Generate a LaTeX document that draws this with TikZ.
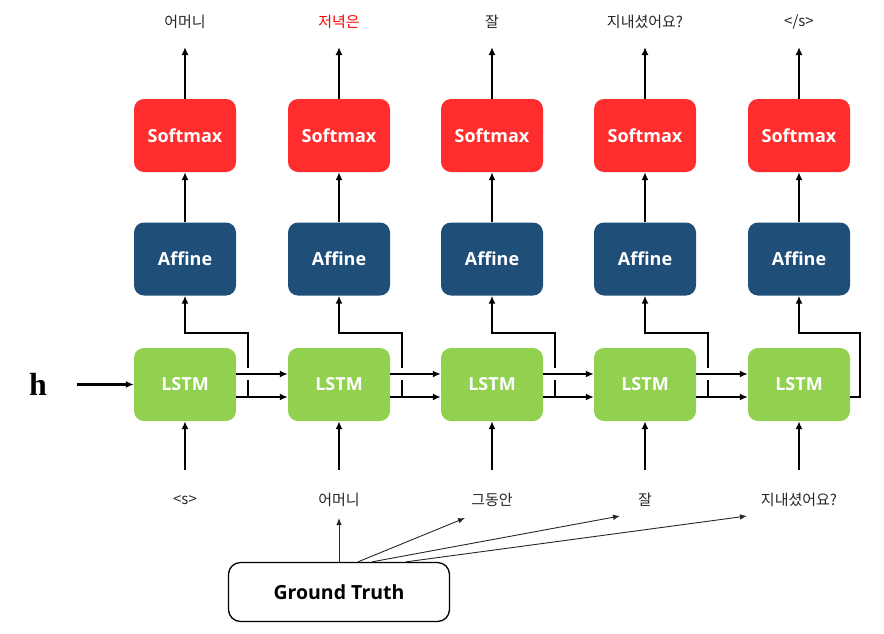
\documentclass[tikz,border=0pt]{standalone}
\usepackage{fontspec}
\setmainfont{Open Sans}
\newfontfamily\kr{Noto Sans CJK KR}
\newfontfamily\hserif{Liberation Serif}
\usetikzlibrary{arrows.meta,calc}
\definecolor{smred}{HTML}{FF2D2D}
\definecolor{afblue}{HTML}{1F4E79}
\definecolor{lsgreen}{HTML}{92D050}
\definecolor{lbltext}{HTML}{262626}
\tikzset{
  box/.style={rounded corners=10pt, minimum width=102pt, minimum height=73pt, inner sep=0pt,
    text=white, font=\fontsize{18}{20}\selectfont\bfseries},
  smbox/.style={box, fill=smred},
  afbox/.style={box, fill=afblue},
  lsbox/.style={box, fill=lsgreen},
  lbl/.style={font=\kr\fontsize{15}{17}\selectfont, text=lbltext, inner sep=0pt},
  arr/.style={line width=2.3pt, -{Latex[length=8pt,width=7pt]}},
  ln/.style={line width=2.3pt},
  gtarr/.style={line width=0.9pt, draw=black!85, -{Latex[length=7pt,width=5.5pt]}},
  gtbox/.style={draw=black, line width=1.3pt, rounded corners=12pt, minimum width=221pt,
    minimum height=59pt, font=\fontsize{19.5}{21}\selectfont\bfseries, inner sep=0pt}
}
\begin{document}
\begin{tikzpicture}[x=1pt,y=-1pt]
\useasboundingbox (0,0) rectangle (884,633);
% columns
\foreach \i/\x/\n in {1/185/{<s>},2/339/어머니,3/492/그동안,4/645/잘,5/799/지내셨어요?}{
  \node[smbox] (S\i) at (\x,135.5) {Softmax};
  \node[afbox] (A\i) at (\x,259) {Affine};
  \node[lsbox] (L\i) at (\x,384.5) {LSTM};
  \coordinate (T\i) at (\x,47);
  \coordinate (B\i) at (\x,470);
  \node[lbl] (in\i) at (\x,500) {\n};
  \draw[arr] (S\i.north) -- (T\i);
  \draw[arr] (A\i.north) -- (S\i.south);
  \draw[arr] (B\i) -- (L\i.south);
}
\node[lbl] (o1) at (185,22) {어머니};
\node[lbl, text=red] (o2) at (339,22) {저녁은};
\node[lbl] (o3) at (492,22) {잘};
\node[lbl] (o4) at (645,22) {지내셨어요?};
\node[lbl] (o5) at (799,22) {</s>};
% recurrent connections
\foreach \i/\j in {1/2,2/3,3/4,4/5}{
  \draw[arr] ([yshift=10.5pt]L\i.east) -- ([yshift=10.5pt]L\j.west);
  \draw[arr] ([yshift=-12.5pt]L\i.east) -- ([yshift=-12.5pt]L\j.west);
  \draw[ln] ([xshift=12pt,yshift=-12.5pt]L\i.east) -- ([xshift=12pt,yshift=4.5pt]L\i.east);
  \draw[arr] ([xshift=12pt,yshift=16.5pt]L\i.east) -- ([xshift=12pt,yshift=51.5pt]L\i.east) -| (A\i.south);
}
\draw[arr] ([yshift=-12.5pt]L5.east) -- ([xshift=10pt,yshift=-12.5pt]L5.east)
  -- ([xshift=10pt,yshift=51.5pt]L5.east) -| (A5.south);
% h input
\node[font=\hserif\fontsize{32}{34}\selectfont\bfseries, inner sep=0pt] (h) at (38,384) {h};
\coordinate (hs) at (77,384.5);
\draw[arr] (hs) -- (L1.west);
% ground truth
\node[gtbox] (G) at (339,592) {Ground Truth};
\coordinate (g1) at (339,518);
\coordinate (g2) at (465,518);
\coordinate (g3) at (620,516);
\coordinate (g4) at (747,516);
\draw[gtarr] (G.north) -- (g1);
\draw[gtarr] ($(G.north)+(19,0)$) -- (g2);
\draw[gtarr] ($(G.north)+(33,0)$) -- (g3);
\draw[gtarr] ($(G.north)+(67,0)$) -- (g4);
\end{tikzpicture}
\end{document}
